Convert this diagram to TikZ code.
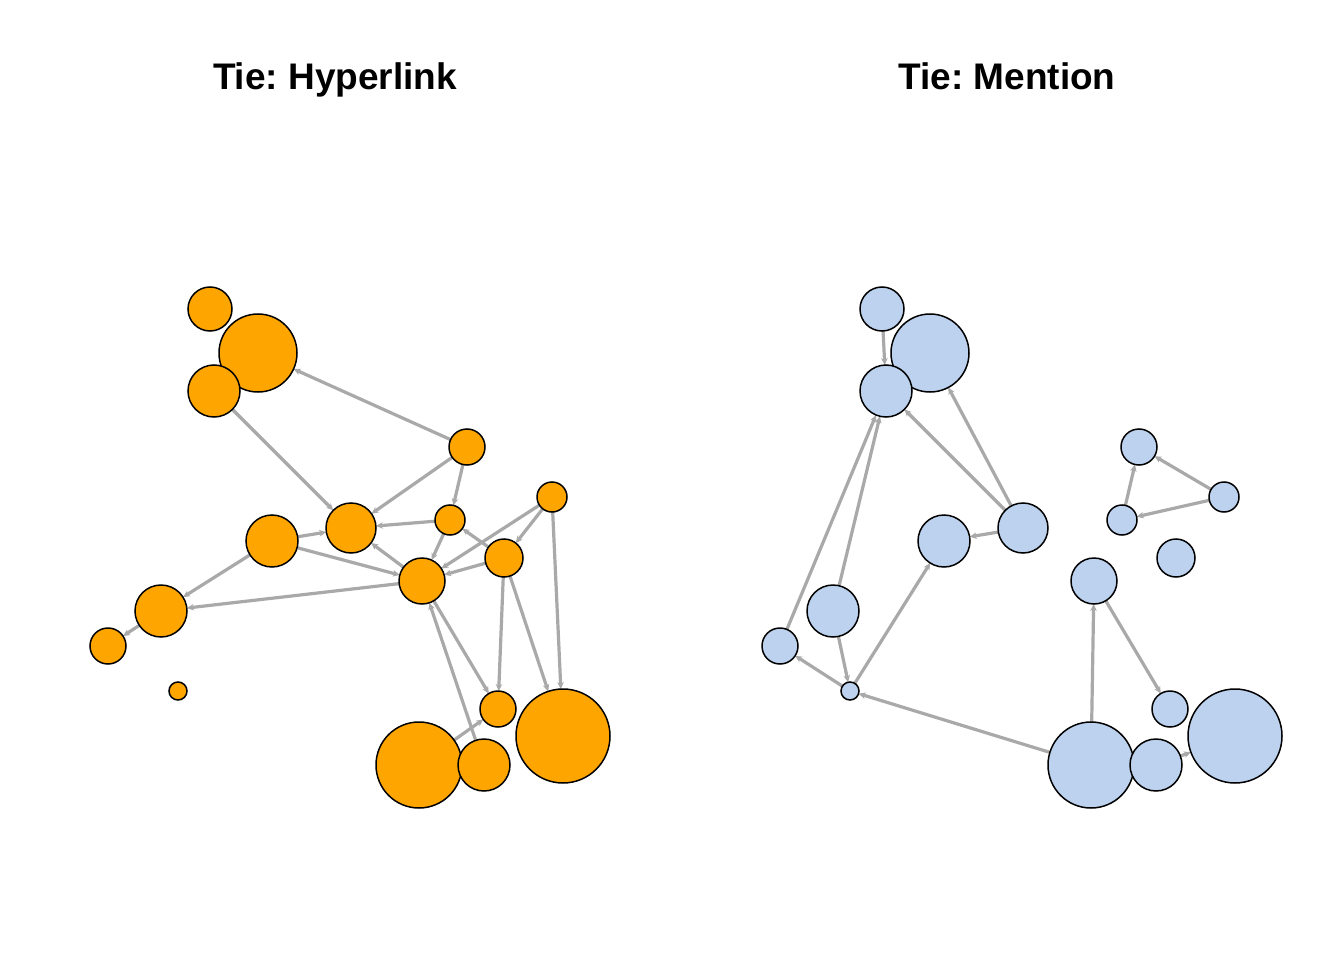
\documentclass[tikz,border=0pt]{standalone}
\usepackage{fontspec}
\setmainfont{Liberation Sans}
\usetikzlibrary{arrows.meta}
\pgfdeclarelayer{bg}
\pgfdeclarelayer{paper}
\pgfsetlayers{paper,bg,main}
\definecolor{vorange}{HTML}{FFA500}
\definecolor{vblue}{HTML}{BCD2EE}
\definecolor{egray}{HTML}{A9A9A9}
\frenchspacing
\tikzset{
  vtx/.style={circle, draw=black, line width=1.5pt, inner sep=0pt, outer sep=0pt},
  og/.style={vtx, fill=vorange},
  bl/.style={vtx, fill=vblue},
  edge/.style={draw=egray, line width=3.2pt, -{Stealth[length=7pt,width=6.5pt]}},
  ttl/.style={anchor=base, font=\bfseries\fontsize{37}{40}\selectfont}
}
\begin{document}
\begin{tikzpicture}[x=1pt,y=-1pt]
\useasboundingbox (0,0) rectangle (1344,960);
\begin{pgfonlayer}{paper}
\fill[white] (0,0) rectangle (1344,960);
\end{pgfonlayer}

% ---------- Left: Hyperlink ----------
\node[ttl] (t1) at (335,90) {Tie: Hyperlink};
\node[og, minimum size=44pt] (lA) at (210,309) {};
\node[og, minimum size=78pt] (lB) at (258,353) {};
\node[og, minimum size=52pt] (lC) at (214,391) {};
\node[og, minimum size=36pt] (lD) at (467,447) {};
\node[og, minimum size=30pt] (lE) at (552,497) {};
\node[og, minimum size=30pt] (lF) at (450,520) {};
\node[og, minimum size=50pt] (lG) at (351,528) {};
\node[og, minimum size=52pt] (lH) at (272,541) {};
\node[og, minimum size=38pt] (lI) at (504,558) {};
\node[og, minimum size=46pt] (lJ) at (422,581) {};
\node[og, minimum size=52pt] (lK) at (161,611) {};
\node[og, minimum size=36pt] (lL) at (108,646) {};
\node[og, minimum size=18pt] (lM) at (178,691) {};
\node[og, minimum size=36pt] (lN) at (498,709) {};
\node[og, minimum size=94pt] (lO) at (563,736) {};
\node[og, minimum size=86pt] (lP) at (419,765) {};
\node[og, minimum size=52pt] (lQ) at (484,765) {};

\begin{pgfonlayer}{bg}
\draw[edge] (lD) -- (lB);
\draw[edge] (lC) -- (lG);
\draw[edge] (lD) -- (lG);
\draw[edge] (lD) -- (lF);
\draw[edge] (lF) -- (lG);
\draw[edge] (lF) -- (lJ);
\draw[edge] (lI) -- (lF);
\draw[edge] (lE) -- (lJ);
\draw[edge] (lE) -- (lI);
\draw[edge] (lE) -- (lO);
\draw[edge] (lI) -- (lJ);
\draw[edge] (lJ) -- (lG);
\draw[edge] (lH) -- (lJ);
\draw[edge] (lH) -- (lK);
\draw[edge] (lJ) -- (lK);
\draw[edge] (lH) -- (lG);
\draw[edge] (lK) -- (lL);
\draw[edge] (lI) -- (lN);
\draw[edge] (lI) -- (lO);
\draw[edge] (lJ) -- (lN);
\draw[edge] (lQ) -- (lJ);
\draw[edge] (lP) -- (lN);
\end{pgfonlayer}

% ---------- Right: Mention ----------
\node[ttl] (t2) at (1007,90) {Tie: Mention};
\node[bl, minimum size=44pt] (rA) at (882,309) {};
\node[bl, minimum size=78pt] (rB) at (930,353) {};
\node[bl, minimum size=52pt] (rC) at (886,391) {};
\node[bl, minimum size=36pt] (rD) at (1139,447) {};
\node[bl, minimum size=30pt] (rE) at (1224,497) {};
\node[bl, minimum size=30pt] (rF) at (1122,520) {};
\node[bl, minimum size=50pt] (rG) at (1023,528) {};
\node[bl, minimum size=52pt] (rH) at (944,541) {};
\node[bl, minimum size=38pt] (rI) at (1176,558) {};
\node[bl, minimum size=46pt] (rJ) at (1094,581) {};
\node[bl, minimum size=52pt] (rK) at (833,611) {};
\node[bl, minimum size=36pt] (rL) at (780,646) {};
\node[bl, minimum size=18pt] (rM) at (850,691) {};
\node[bl, minimum size=36pt] (rN) at (1170,709) {};
\node[bl, minimum size=94pt] (rO) at (1235,736) {};
\node[bl, minimum size=86pt] (rP) at (1091,765) {};
\node[bl, minimum size=52pt] (rQ) at (1156,765) {};

\begin{pgfonlayer}{bg}
\draw[edge] (rA) -- (rC);
\draw[edge] (rG) -- (rB);
\draw[edge] (rG) -- (rC);
\draw[edge] (rL) -- (rC);
\draw[edge] (rK) -- (rC);
\draw[edge] (rG) -- (rH);
\draw[edge] (rF) -- (rD);
\draw[edge] (rE) -- (rD);
\draw[edge] (rE) -- (rF);
\draw[edge] (rK) -- (rM);
\draw[edge] (rM) -- (rL);
\draw[edge] (rM) -- (rH);
\draw[edge] (rP) -- (rM);
\draw[edge] (rP) -- (rJ);
\draw[edge] (rJ) -- (rN);
\draw[edge] (rQ) -- (rO);
\end{pgfonlayer}
\end{tikzpicture}
\end{document}
